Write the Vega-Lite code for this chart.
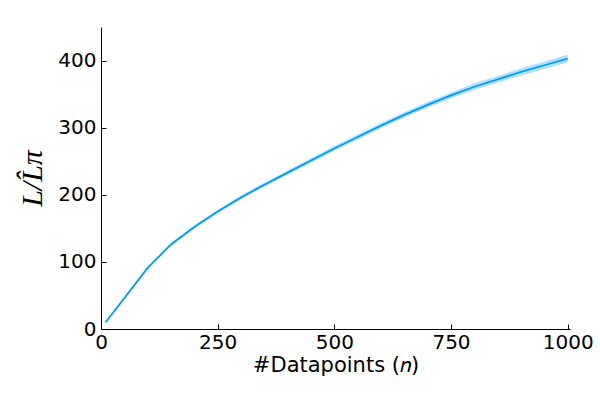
{
  "$schema": "https://vega.github.io/schema/vega-lite/v6.json",
  "width": 469,
  "height": 302,
  "autosize": {"type": "none"},
  "padding": {"left": 101, "top": 27, "right": 30, "bottom": 71},
  "background": "white",
  "config": {
    "view": {"stroke": null},
    "axis": {
      "grid": false,
      "domainColor": "#000000",
      "domainWidth": 1,
      "tickColor": "#000000",
      "tickSize": -5,
      "labelFont": "DejaVu Sans",
      "labelFontSize": 20,
      "labelColor": "#000000",
      "titleColor": "#000000",
      "titleFontWeight": "normal"
    }
  },
  "data": {
    "values": [
      {"n": 10, "y": 10, "lo": 9.5, "hi": 10.5},
      {"n": 100, "y": 91, "lo": 89.5, "hi": 92.5},
      {"n": 150, "y": 126, "lo": 124, "hi": 128},
      {"n": 200, "y": 152, "lo": 150, "hi": 154.5},
      {"n": 250, "y": 175, "lo": 172.5, "hi": 177.5},
      {"n": 300, "y": 196, "lo": 193, "hi": 199},
      {"n": 350, "y": 215, "lo": 212, "hi": 218},
      {"n": 400, "y": 233, "lo": 230, "hi": 236},
      {"n": 450, "y": 251, "lo": 247.5, "hi": 254.5},
      {"n": 500, "y": 269, "lo": 265.5, "hi": 272.5},
      {"n": 550, "y": 286, "lo": 282, "hi": 290},
      {"n": 600, "y": 303, "lo": 299, "hi": 307},
      {"n": 650, "y": 319, "lo": 315, "hi": 323},
      {"n": 700, "y": 334, "lo": 329.5, "hi": 338.5},
      {"n": 750, "y": 348, "lo": 343.5, "hi": 352.5},
      {"n": 800, "y": 361, "lo": 356, "hi": 366},
      {"n": 850, "y": 372, "lo": 367, "hi": 377},
      {"n": 900, "y": 383, "lo": 377.5, "hi": 388.5},
      {"n": 950, "y": 393, "lo": 387.5, "hi": 398.5},
      {"n": 1000, "y": 403, "lo": 397, "hi": 409}
    ]
  },
  "layer": [
    {
      "mark": {"type": "area", "color": "#009AFA", "opacity": 0.3},
      "encoding": {
        "x": {"field": "n", "type": "quantitative", "scale": {"domain": [0, 1005], "nice": false, "zero": false},
          "axis": {"values": [0, 250, 500, 750, 1000], "format": "d", "title": "#Datapoints (𝑛)", "titleFont": "DejaVu Sans", "titleFontSize": 21, "labelPadding": 8, "titlePadding": 2, "labelFlush": false}},
        "y": {"field": "lo", "type": "quantitative", "scale": {"domain": [0, 450], "nice": false},
          "axis": {"values": [0, 100, 200, 300, 400], "title": "L/L̂π", "titleFont": "Liberation Serif", "titleFontStyle": "italic", "titleFontSize": 30, "labelPadding": 10, "titlePadding": 10}},
        "y2": {"field": "hi"}
      }
    },
    {
      "mark": {"type": "line", "color": "#009AFA", "strokeWidth": 1.8},
      "encoding": {
        "x": {"field": "n", "type": "quantitative"},
        "y": {"field": "y", "type": "quantitative"}
      }
    }
  ]
}
